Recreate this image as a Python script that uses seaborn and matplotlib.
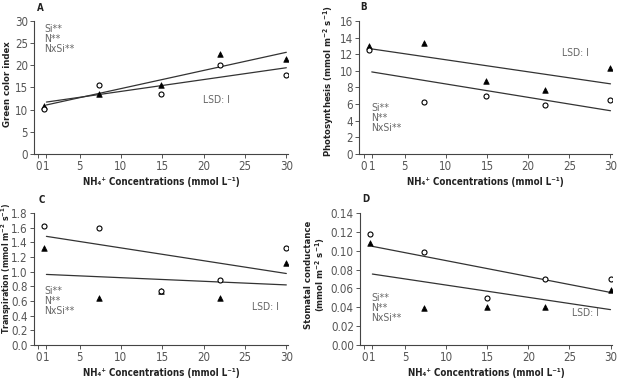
import numpy as np
import pandas as pd
import matplotlib
matplotlib.use("Agg")
import matplotlib.pyplot as plt
from matplotlib import font_manager
import seaborn as sns

sns.set_theme(style="ticks")

# prefer a narrow face if one is installed
main, stretch = 'Liberation Sans', 'normal'
for f in font_manager.fontManager.ttflist:
    if 'Narrow' in f.name or 'Condensed' in f.name or f.stretch in ('condensed', 'semi-condensed'):
        main, stretch = f.name, f.stretch
        break
plt.rcParams['font.family'] = [main, 'DejaVu Sans']
plt.rcParams['font.stretch'] = stretch
plt.rcParams['mathtext.fontset'] = 'custom'
plt.rcParams['mathtext.rm'] = main + ':bold'
plt.rcParams['mathtext.it'] = main + ':bold'
plt.rcParams['mathtext.bf'] = main + ':bold'

# NH4+ concentrations (as plotted)
nh4 = [0.7, 7.3, 14.9, 22.0, 30.0]

# A - green color index
green_tri = [10.8, 13.6, 15.5, 22.6, 21.4]
green_circ = [10.2, 15.5, 13.6, 20.0, 17.9]
# B - photosynthesis
photo_tri = [12.95, 13.3, 8.75, 7.65, 10.4]
photo_circ = [12.45, 6.2, 7.0, 5.95, 6.5]
# C - transpiration
transp_tri = [1.33, 0.64, 0.74, 0.64, 1.12]
transp_circ = [1.63, 1.60, 0.74, 0.89, 1.33]
# D - stomatal conductance
stom_tri = [0.1085, 0.039, 0.040, 0.040, 0.058]
stom_circ = [0.1176, 0.099, 0.0496, 0.0697, 0.0697]

unit = r"(mmol m$^{-2}$ s$^{-1}$)"
ylabels = ["Green color index",
           "Photosynthesis " + unit,
           "Transpiration " + unit,
           "Stomatal conductance\n" + unit]
ylabel_size = [6.8, 6.8, 6.3, 6.8]
yticks = [np.arange(0, 31, 5), np.arange(0, 17, 2),
          np.round(np.arange(0, 1.81, 0.2), 1), np.round(np.arange(0, 0.141, 0.02), 2)]
yfmt = ["{:.0f}", "{:.0f}", "{:.1f}", "{:.2f}"]
letters = ["A", "B", "C", "D"]
xticks = [0, 1, 5, 10, 15, 20, 25, 30]
xlabel = "NH₄⁺ Concentrations (mmol L⁻¹)"

series = [(green_tri, green_circ), (photo_tri, photo_circ),
          (transp_tri, transp_circ), (stom_tri, stom_circ)]

# annotation positions (axes fraction): stats block, LSD
stat_pos = [(0.04, 0.975), (0.047, 0.385), (0.04, 0.445), (0.045, 0.395)]
lsd_pos = [(0.665, 0.405), (0.80, 0.76), (0.86, 0.29), (0.84, 0.24)]
ylabel_xy = [(-0.085, 0.526), (-0.094, 0.55), (-0.08, 0.58), (-0.131, 0.53)]

axes_rect = [[0.0545, 0.5926, 0.407, 0.352], [0.576, 0.5926, 0.405, 0.352],
             [0.0545, 0.0873, 0.407, 0.349], [0.577, 0.0873, 0.404, 0.349]]
letter_pos = [(0.064, 0.979), (0.583, 0.981), (0.067, 0.471), (0.587, 0.474)]

fig = plt.figure(figsize=(6.24, 3.78), dpi=100)
grey = "#555555"

for i in range(4):
    ax = fig.add_axes(axes_rect[i])
    tri, circ = series[i]
    df = pd.DataFrame({"x": nh4, "tri": tri, "circ": circ})

    # linear fits, drawn from 1 to 30
    xfit = np.array([1, 30])
    for col in ["circ", "tri"]:
        k, b = np.polyfit(df["x"], df[col], 1)
        sns.lineplot(x=xfit, y=k * xfit + b, ax=ax, color="#333333", lw=0.9)

    sns.scatterplot(data=df, x="x", y="tri", ax=ax, marker="^", color="black",
                    s=16, edgecolor="black", linewidth=0.5, zorder=3)
    sns.scatterplot(data=df, x="x", y="circ", ax=ax, marker="o", facecolor="white",
                    s=13, edgecolor="black", linewidth=0.8, zorder=4)

    ax.set_xlim(-0.5, 30.2)
    yt = yticks[i]
    ax.set_ylim(yt[0], yt[-1])
    ax.set_yticks(yt)
    ax.set_yticklabels([yfmt[i].format(v) for v in yt])
    ax.set_xticks(xticks)
    ax.set_xticklabels([str(v) for v in xticks])
    ax.tick_params(labelsize=8.3, colors=grey, length=3, width=0.7, pad=1.5)
    sns.despine(ax=ax)
    for s in ["left", "bottom"]:
        ax.spines[s].set_color("#444444")
        ax.spines[s].set_linewidth(0.8)

    ax.set_xlabel(xlabel, fontsize=7, fontweight="bold", color="#222222", labelpad=3)
    ax.set_ylabel(ylabels[i], fontsize=ylabel_size[i], fontweight="bold", color="#222222",
                  linespacing=1.0)
    ax.yaxis.set_label_coords(*ylabel_xy[i])

    sx, sy = stat_pos[i]
    ax.text(sx, sy, "Si**\nN**\nNxSi**", transform=ax.transAxes, fontsize=7.5,
            color="#666666", va="top", ha="left", linespacing=1.0)
    lx, ly = lsd_pos[i]
    ax.text(lx, ly, "LSD: I", transform=ax.transAxes, fontsize=7.5,
            color="#666666", va="center", ha="left")

    fig.text(letter_pos[i][0], letter_pos[i][1], letters[i], fontsize=7,
             fontweight="bold", color="#222222", ha="center", va="center")

fig.savefig("out.png", dpi=100)
